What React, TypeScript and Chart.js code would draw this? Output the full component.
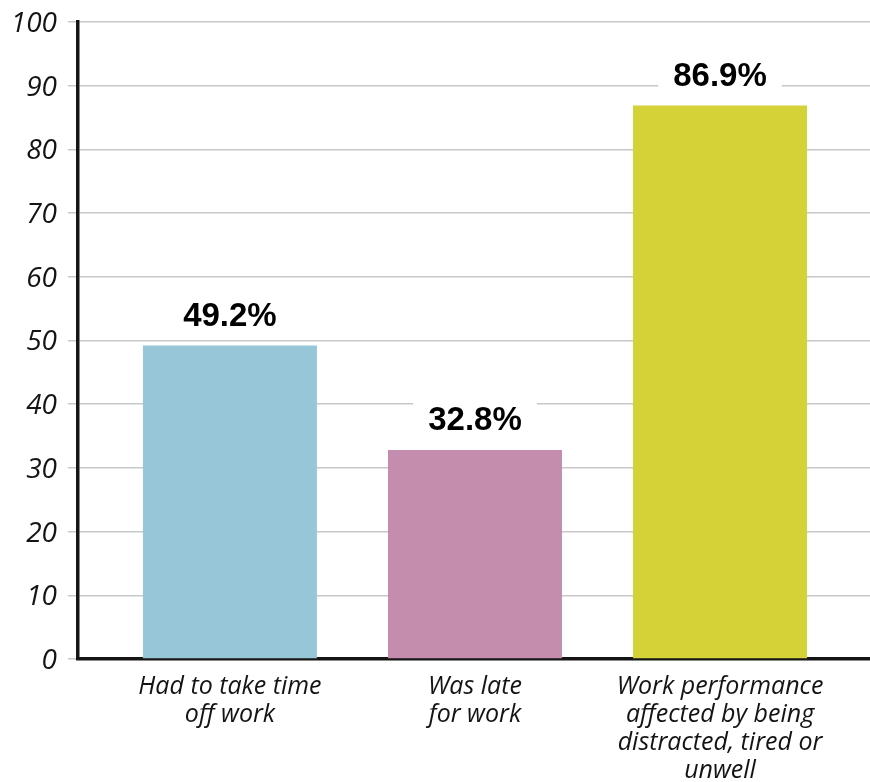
import React, { useEffect, useRef } from "react";
import { Chart, registerables } from "chart.js";

Chart.register(...registerables);

// Category labels, split into the lines shown under each bar
const categories: string[][] = [
  ["Had to take time", "off work"],
  ["Was late", "for work"],
  ["Work performance", "affected by being", "distracted, tired or", "unwell"],
];
// Share of respondents (%)
const values: number[] = [49.2, 32.8, 86.9];
const valueLabels: string[] = ["49.2%", "32.8%", "86.9%"];
const barColors: string[] = ["#96c6d8", "#c48dae", "#d4d236"];
const yTickValues: number[] = [0, 10, 20, 30, 40, 50, 60, 70, 80, 90, 100];

// Prints each bar's value above it on a white plate that breaks the grid lines
const valueLabelPlugin = {
  id: "valueLabels",
  afterDatasetsDraw(chart: any) {
    const ctx = chart.ctx;
    const meta = chart.getDatasetMeta(0);
    ctx.save();
    ctx.font = "bold 33px 'Liberation Sans', Arial, sans-serif";
    ctx.textAlign = "center";
    ctx.textBaseline = "middle";
    meta.data.forEach((bar: any, i: number) => {
      const text = valueLabels[i];
      const w = ctx.measureText(text).width + 30;
      const h = 38;
      const cx = bar.x;
      const cy = bar.y - 30;
      ctx.fillStyle = "#ffffff";
      ctx.fillRect(cx - w / 2, cy - h / 2, w, h);
      ctx.fillStyle = "#000000";
      ctx.fillText(text, cx, cy + 1);
    });
    ctx.restore();
  },
};

export default function App() {
  const canvasRef = useRef<HTMLCanvasElement | null>(null);

  useEffect(() => {
    const canvas = canvasRef.current;
    if (!canvas) return;
    const chart = new Chart(canvas, {
      type: "bar",
      data: {
        datasets: [
          {
            data: values.map((v, i) => ({ x: i, y: v })),
            backgroundColor: barColors,
            borderWidth: 0,
            barPercentage: 0.71,
            categoryPercentage: 1,
          },
        ],
      },
      options: {
        animation: false,
        responsive: true,
        maintainAspectRatio: false,
        layout: { padding: { top: 22, right: 0, bottom: 0, left: 0 } },
        plugins: {
          legend: { display: false },
          tooltip: { enabled: false },
        },
        scales: {
          x: {
            type: "linear",
            min: -0.62,
            max: 2.612,
            offset: false,
            bounds: "data",
            z: 1,
            afterBuildTicks: (scale: any) => {
              scale.ticks = categories.map((_, i) => ({ value: i }));
            },
            afterFit: (scale: any) => {
              scale.height = 123;
            },
            grid: { display: false, drawTicks: false, offset: false },
            border: { display: true, color: "#151515", width: 3.5 },
            ticks: {
              autoSkip: false,
              maxRotation: 0,
              includeBounds: false,
              padding: 14,
              color: "#141414",
              font: { family: "'Open Sans', sans-serif", size: 25, style: "italic", weight: "500", lineHeight: "28px" },
              callback: (v: any) => categories[Math.round(Number(v))] ?? "",
            },
          },
          y: {
            min: 0,
            max: 100,
            afterBuildTicks: (scale: any) => {
              scale.ticks = yTickValues.map((v) => ({ value: v }));
            },
            afterFit: (scale: any) => {
              scale.width = 78;
              scale.paddingTop = 0;
              scale.paddingBottom = 0;
            },
            grid: { color: "#c8c8c8", lineWidth: 1.5, tickLength: 10, tickColor: "#c8c8c8" },
            border: { display: true, color: "#151515", width: 3.5 },
            ticks: {
              padding: 11,
              labelOffset: 2,
              color: "#141414",
              font: { family: "'Open Sans', sans-serif", size: 28, style: "italic", weight: "500" },
            },
          },
        },
      },
      plugins: [valueLabelPlugin],
    } as any);
    return () => chart.destroy();
  }, []);

  return (
    <div style={{ position: "fixed", left: 0, top: 0, width: 870, height: 782, background: "#ffffff" }}>
      <canvas ref={canvasRef} />
    </div>
  );
}
